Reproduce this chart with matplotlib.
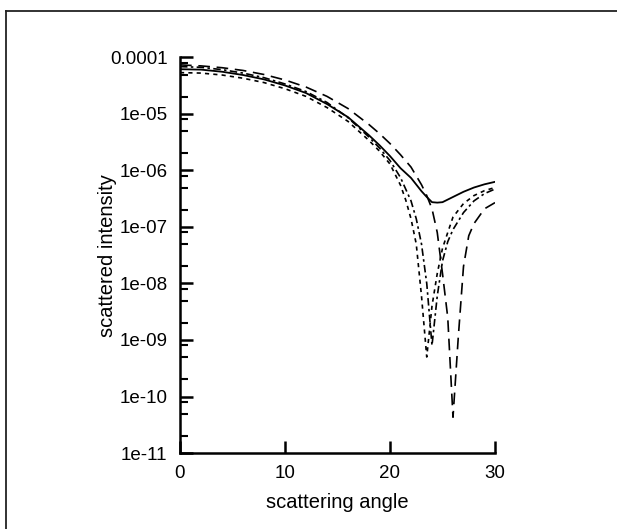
import numpy as np
import matplotlib
matplotlib.use('Agg')
import matplotlib.pyplot as plt
from matplotlib.lines import Line2D
from matplotlib.ticker import FixedLocator, FixedFormatter

plt.rcParams.update({
    'font.family': ['Liberation Sans', 'DejaVu Sans'],
    'font.size': 13.5,
})

# scattering angle / intensity
x_solid = [0, 2, 4, 6, 8, 10, 12, 14, 16, 18, 19, 20, 21, 22, 23, 23.5, 24, 24.5, 25, 26, 27, 28, 29, 30]
y_solid = [6.2e-5, 6.1e-5, 5.6e-5, 4.9e-5, 4.1e-5, 3.2e-5, 2.35e-5, 1.5e-5, 8.8e-6, 4.2e-6, 2.8e-6,
           1.8e-6, 1.1e-6, 7.4e-7, 4.3e-7, 3.4e-7, 2.75e-7, 2.7e-7, 2.75e-7, 3.4e-7, 4.2e-7, 5.0e-7,
           5.7e-7, 6.3e-7]

x_long = [0, 2, 4, 6, 8, 10, 12, 14, 16, 18, 19, 20, 21, 22, 23, 23.5, 24, 24.5, 25, 25.5, 26, 26.5,
          27, 27.5, 28, 29, 30]
y_long = [7.4e-5, 7.1e-5, 6.6e-5, 5.9e-5, 5.0e-5, 4.0e-5, 3.0e-5, 2.05e-5, 1.25e-5, 6.5e-6, 4.5e-6,
          3.0e-6, 1.9e-6, 1.15e-6, 5.6e-7, 3.6e-7, 2.1e-7, 8e-8, 1.5e-8, 2.5e-9, 4.3e-11, 1.1e-9,
          2.0e-8, 7e-8, 1.15e-7, 2.1e-7, 2.7e-7]

x_dot = [0, 2, 4, 6, 8, 10, 12, 14, 16, 18, 19, 20, 21, 21.5, 22, 22.5, 23, 23.5, 24, 24.5, 25,
         25.5, 26, 27, 28, 29, 30]
y_dot = [5.4e-5, 5.3e-5, 4.9e-5, 4.3e-5, 3.6e-5, 2.8e-5, 2.05e-5, 1.3e-5, 7.4e-6, 3.4e-6, 2.2e-6,
         1.3e-6, 5.5e-7, 3.0e-7, 1.4e-7, 5e-8, 6e-9, 5e-10, 4e-9, 1.5e-8, 4.2e-8, 8e-8, 1.5e-7,
         2.6e-7, 3.6e-7, 4.4e-7, 5.0e-7]

x_dashdot = [0, 2, 4, 6, 8, 10, 12, 14, 16, 18, 19, 20, 21, 22, 22.5, 23, 23.5, 24, 24.5, 25,
             25.5, 26, 27, 28, 29, 30]
y_dashdot = [6.9e-5, 6.7e-5, 6.1e-5, 5.3e-5, 4.4e-5, 3.4e-5, 2.5e-5, 1.6e-5, 8.6e-6, 3.9e-6,
             2.5e-6, 1.5e-6, 7.5e-7, 2.9e-7, 1.4e-7, 5e-8, 1e-8, 8e-10, 6e-9, 2.5e-8, 5.5e-8,
             9e-8, 1.8e-7, 2.9e-7, 3.9e-7, 4.7e-7]

ytick_vals = [1e-4, 1e-5, 1e-6, 1e-7, 1e-8, 1e-9, 1e-10, 1e-11]
ytick_labels = ['0.0001', '1e-05', '1e-06', '1e-07', '1e-08', '1e-09', '1e-10', '1e-11']
xtick_vals = [0, 10, 20, 30]

fig = plt.figure(figsize=(6.17, 5.29), dpi=100)
ax = fig.add_axes([180 / 617, 76 / 529, 315 / 617, 395.5 / 529])

ax.plot(x_solid, y_solid, color='black', lw=1.3)
ax.plot(x_long, y_long, color='black', lw=1.2, linestyle=(0, (7, 4)))
ax.plot(x_dot, y_dot, color='black', lw=1.2, linestyle=(0, (2.5, 2.5)))
ax.plot(x_dashdot, y_dashdot, color='black', lw=1.2, linestyle=(0, (4.5, 2, 1.5, 2)))

ax.set_yscale('log')
ax.set_xlim(0, 30)
ax.set_ylim(1e-11, 1e-4)

ax.yaxis.set_major_locator(FixedLocator(ytick_vals))
ax.yaxis.set_major_formatter(FixedFormatter(ytick_labels))
minors = [m * 10.0 ** e for e in range(-11, -4) for m in (2, 5, 8)]
ax.yaxis.set_minor_locator(FixedLocator(minors))
ax.xaxis.set_major_locator(FixedLocator(xtick_vals))
ax.xaxis.set_minor_locator(FixedLocator([]))

for s in ['top', 'right']:
    ax.spines[s].set_visible(False)
for s in ['left', 'bottom']:
    ax.spines[s].set_linewidth(1.8)

ax.tick_params(which='major', direction='in', length=9, width=1.8, pad=9, labelsize=13.5)
ax.tick_params(which='minor', direction='in', length=5.5, width=1.5)

ax.set_xlabel('scattering angle', fontsize=14.5)
ax.set_ylabel('scattered intensity', fontsize=14.5)
ax.xaxis.set_label_coords(0.5, -0.1)
ax.yaxis.set_label_coords(-0.2, 0.5)

# frame round the figure
fig.add_artist(Line2D([6 / 617, 6 / 617], [0, 1 - 11 / 529], transform=fig.transFigure,
                      color='#222222', lw=1.3))
fig.add_artist(Line2D([6 / 617, 1], [1 - 11 / 529, 1 - 11 / 529], transform=fig.transFigure,
                      color='#222222', lw=1.3))

fig.savefig('out.png', dpi=100)
